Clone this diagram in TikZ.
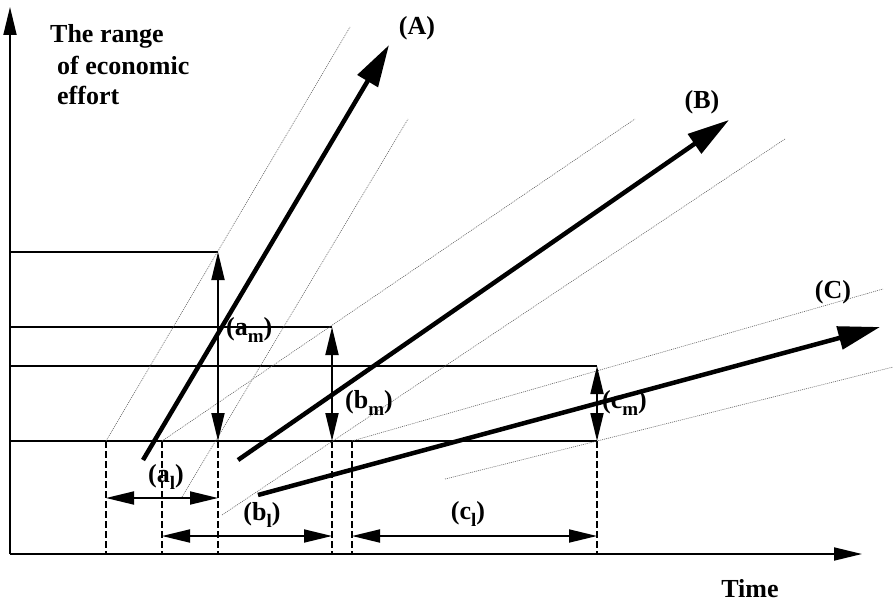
\documentclass[tikz,border=0pt]{standalone}
\usepackage{fontspec}
\setmainfont{Liberation Serif}
\usetikzlibrary{arrows.meta}
\newcommand\sbs[1]{\raisebox{-0.28em}{\fontsize{19}{19}\selectfont #1}}
\begin{document}
\begin{tikzpicture}[x=1pt,y=-1pt,
  lbl/.style={inner sep=0pt,font=\fontsize{26}{31}\selectfont\bfseries},
  thinln/.style={line width=1.8pt},
  dashln/.style={line width=1.8pt,dash pattern=on 7pt off 3pt},
  guide/.style={line width=0.6pt,gray!75!black,dash pattern=on 1pt off 1pt},
  thickarr/.style={line width=4.5pt,-{Triangle[length=42pt,width=23pt]}},
  onehead/.style={thinln,-{Triangle[length=28pt,width=13pt]}},
  twohead/.style={thinln,{Triangle[length=28pt,width=13pt]}-{Triangle[length=28pt,width=13pt]}}]
\useasboundingbox (0,0) rectangle (893,604);
% axes
\coordinate (O) at (10,554);
\coordinate (Ytop) at (10,7);
\coordinate (Xend) at (862,554);
\draw[onehead] (O) -- (Ytop);
\draw[onehead] (O) -- (Xend);
% levels
\coordinate (L1a) at (10,252); \coordinate (L1b) at (218,252);
\coordinate (L2a) at (10,327); \coordinate (L2b) at (332,327);
\coordinate (L3a) at (10,366); \coordinate (L3b) at (597,366);
\coordinate (L4a) at (10,441); \coordinate (L4b) at (597,441);
\draw[thinln] (L1a) -- (L1b);
\draw[thinln] (L2a) -- (L2b);
\draw[thinln] (L3a) -- (L3b);
\draw[thinln] (L4a) -- (L4b);
% dashed verticals
\foreach \n/\x in {d1/106,d2/162,d3/218,d4/332,d5/352,d6/597}{
  \coordinate (\n t) at (\x,441); \coordinate (\n b) at (\x,554);
  \draw[dashln] (\n t) -- (\n b);}
% guide lines
\coordinate (A1s) at (106,441); \coordinate (A1e) at (350,27);
\coordinate (A2s) at (182,497); \coordinate (A2e) at (408,119);
\coordinate (B1s) at (162,441); \coordinate (B1e) at (635,119);
\coordinate (B2s) at (222,515); \coordinate (B2e) at (785,139);
\coordinate (C1s) at (352,441); \coordinate (C1e) at (883,289);
\coordinate (C2s) at (445,479); \coordinate (C2e) at (893,367);
\draw[guide] (A1s) -- (A1e);
\draw[guide] (A2s) -- (A2e);
\draw[guide] (B1s) -- (B1e);
\draw[guide] (B2s) -- (B2e);
\draw[guide] (C1s) -- (C1e);
\draw[guide] (C2s) -- (C2e);
% vertical double arrows
\draw[twohead] (L1b) -- (d3t);
\draw[twohead] (L2b) -- (d4t);
\draw[twohead] (L3b) -- (d6t);
% horizontal double arrows
\coordinate (al1) at (106,498); \coordinate (al2) at (218,498);
\coordinate (bl1) at (162,536); \coordinate (bl2) at (332,536);
\coordinate (cl1) at (352,536); \coordinate (cl2) at (597,536);
\draw[twohead] (al1) -- (al2);
\draw[twohead] (bl1) -- (bl2);
\draw[twohead] (cl1) -- (cl2);
% thick arrows
\coordinate (As) at (143,460); \coordinate (Ae) at (389,45);
\coordinate (Bs) at (238,460); \coordinate (Be) at (729,120);
\coordinate (Cs) at (258,495); \coordinate (Ce) at (880,327);
\draw[thickarr] (As) -- (Ae);
\draw[thickarr] (Bs) -- (Be);
\draw[thickarr] (Cs) -- (Ce);
% labels
\node[lbl,anchor=base west] (t1) at (50,43) {The range};
\node[lbl,anchor=base west] (t2) at (57,75) {of economic};
\node[lbl,anchor=base west] (t3) at (57,105) {effort};
\node[lbl] (lA) at (417,28) {(A)};
\node[lbl] (lB) at (702,102) {(B)};
\node[lbl] (lC) at (833,292) {(C)};
\node[lbl,anchor=west] (am) at (226,330) {(a\sbs{m})};
\node[lbl,anchor=west] (bm) at (345,403) {(b\sbs{m})};
\node[lbl,anchor=west] (cm) at (602,403) {(c\sbs{m})};
\node[lbl] (al) at (166,477) {(a\sbs{l})};
\node[lbl] (bl) at (262,515) {(b\sbs{l})};
\node[lbl] (cl) at (468,514) {(c\sbs{l})};
\node[lbl,anchor=base] (time) at (750,597) {Time};
\end{tikzpicture}
\end{document}
